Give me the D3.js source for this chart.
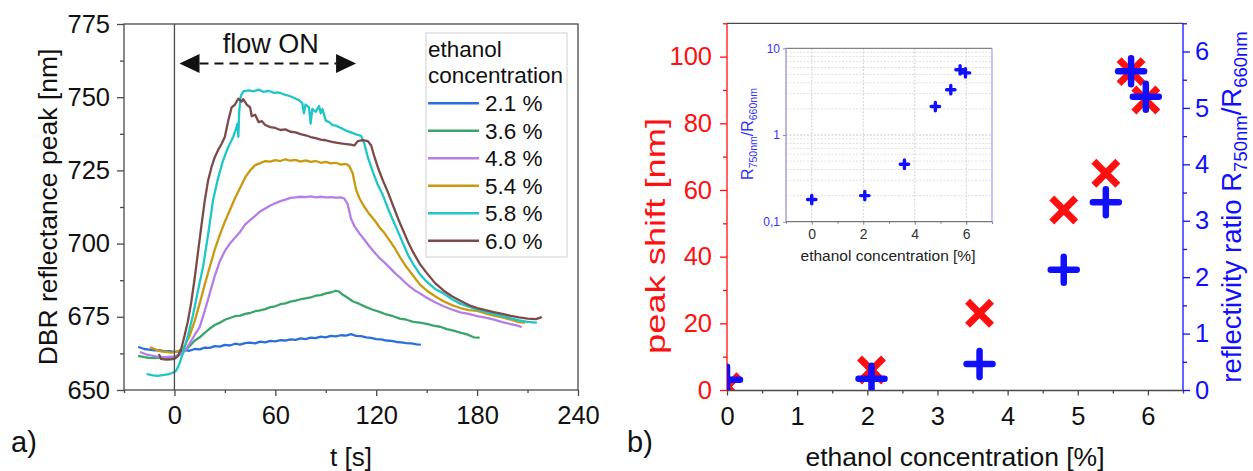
<!DOCTYPE html>
<html><head><meta charset="utf-8">
<script src="https://cdn.jsdelivr.net/npm/d3@7"></script>
<style>
body{margin:0;background:#fff}
svg{display:block;font-family:"Liberation Sans",Arial,sans-serif}
</style></head>
<body><svg id="c" width="1253" height="471"></svg>
<script>
// ---------------- data: panel a ----------------
const seriesNames = ["2.1 %","3.6 %","4.8 %","5.4 %","5.8 %","6.0 %"];
const c21 = [[-21,664.6],[-18,664.0],[-15,663.8],[-12,663.5],[-9,663.6],[-6,663.2],[-3,663.3],[0,663.0],[3,663.2],[6,663.6],[9,663.4],[12,664.0],[15,663.9],[18,664.5],[21,664.4],[24,665.0],[27,664.8],[30,665.4],[33,665.2],[36,665.8],[39,665.5],[42,666.0],[45,666.2],[48,665.9],[51,666.5],[54,666.3],[57,666.8],[60,666.6],[63,667.0],[66,666.9],[69,667.3],[72,667.1],[75,667.6],[78,667.4],[81,667.9],[84,667.7],[87,668.2],[90,668.0],[93,668.5],[96,668.3],[99,668.7],[102,668.6],[105,669.1],[108,668.5],[111,668.4],[114,668.0],[117,667.8],[120,667.4],[123,667.3],[126,666.9],[129,666.8],[132,666.4],[135,666.3],[138,666.0],[141,665.9],[144,665.6],[146,665.5]];
const c36 = [[-21,661.6],[-18,661.2],[-15,661.0],[-12,660.9],[-9,661.1],[-6,660.8],[-3,661.0],[0,661.3],[3,662.0],[6,663.5],[9,665.0],[12,666.8],[15,668.0],[18,669.5],[21,671.0],[24,672.2],[27,673.0],[30,674.0],[33,674.6],[36,675.2],[39,675.4],[42,676.0],[45,676.3],[48,676.9],[51,677.2],[54,677.6],[57,678.3],[60,678.6],[63,679.3],[66,679.6],[69,680.2],[72,680.5],[75,681.0],[78,681.3],[81,681.6],[84,682.2],[87,682.4],[90,683.0],[93,683.3],[96,683.9],[98,683.6],[100,682.6],[103,681.5],[106,680.3],[110,679.4],[114,678.3],[118,677.4],[122,676.7],[126,675.8],[130,675.2],[134,674.4],[138,674.0],[142,673.3],[146,673.0],[150,672.6],[154,672.0],[158,671.6],[162,670.8],[166,670.3],[170,669.6],[174,669.0],[178,668.0],[181,667.9]];
const c48 = [[-20,662.9],[-17,662.2],[-14,661.8],[-11,661.5],[-8,661.3],[-5,661.2],[-2,661.4],[0,661.5],[3,662.0],[6,663.2],[9,665.8],[12,668.8],[15,671.5],[18,677.0],[21,683.0],[24,689.0],[27,694.0],[30,697.5],[33,700.0],[36,702.0],[39,704.0],[42,706.5],[45,708.0],[48,709.5],[51,711.0],[54,712.0],[57,713.0],[60,713.8],[63,714.5],[66,715.0],[69,715.6],[72,715.8],[75,716.0],[78,715.9],[81,716.1],[84,715.8],[87,716.0],[90,715.8],[93,715.9],[96,715.7],[99,715.8],[101,715.4],[103,713.5],[105,708.5],[107,706.0],[110,703.5],[113,701.3],[116,699.0],[119,697.0],[122,695.0],[125,693.5],[128,691.8],[131,690.0],[134,688.5],[137,686.8],[140,685.3],[143,684.0],[146,683.0],[150,681.5],[155,680.0],[160,678.6],[165,677.5],[170,676.5],[175,676.0],[180,675.2],[185,674.7],[190,674.0],[195,673.2],[200,672.5],[204,672.0],[206,671.6]];
const c54 = [[-14,664.5],[-11,663.8],[-8,663.2],[-5,663.0],[-2,662.8],[0,662.9],[3,663.5],[6,665.0],[9,668.5],[12,673.5],[15,679.5],[18,686.0],[21,692.0],[24,698.0],[27,703.0],[30,707.5],[33,711.5],[36,715.5],[39,719.0],[42,722.5],[45,725.0],[48,726.8],[51,727.5],[54,728.2],[57,728.0],[60,728.5],[63,728.2],[66,728.8],[69,728.3],[72,728.6],[75,728.0],[78,728.4],[81,727.9],[84,728.2],[87,727.6],[90,727.9],[93,727.4],[96,727.6],[99,727.0],[102,727.2],[104,726.5],[106,724.0],[108,718.5],[110,715.5],[113,712.5],[116,710.0],[119,708.0],[122,705.5],[125,703.5],[128,701.0],[131,698.5],[134,695.5],[138,692.0],[142,689.0],[146,686.0],[150,684.0],[155,682.0],[160,680.3],[165,679.0],[170,678.0],[175,677.3],[180,677.0],[185,676.2],[190,675.4],[195,674.8],[200,674.0],[205,673.2],[208,673.0]];
const c58 = [[-16,655.4],[-13,655.0],[-10,654.8],[-7,655.1],[-4,655.3],[-1,655.9],[1,656.6],[3,659.0],[5,662.5],[8,668.5],[11,675.5],[14,684.0],[17,692.0],[20,703.0],[23,715.0],[26,722.5],[29,728.5],[32,733.0],[35,736.5],[36.5,739.0],[37.5,741.0],[38,736.5],[38.5,745.0],[39.5,750.5],[41,752.0],[44,752.3],[47,752.0],[50,752.6],[53,751.8],[56,752.2],[59,751.5],[62,751.6],[65,751.0],[68,750.5],[71,749.8],[74,749.0],[76,748.0],[77,744.5],[78,747.5],[80,746.5],[81,741.0],[82,746.0],[84,745.0],[86,747.0],[87,744.5],[88,746.0],[90,742.0],[92,741.5],[94,740.5],[96,740.3],[99,739.5],[102,738.6],[105,738.0],[108,737.3],[111,736.8],[113,734.0],[115,729.5],[118,724.5],[121,720.0],[124,716.5],[127,712.0],[130,708.0],[133,704.0],[136,700.0],[139,696.0],[142,693.0],[146,689.5],[150,687.0],[155,684.5],[160,683.0],[165,681.0],[170,679.5],[175,678.5],[180,677.5],[185,676.8],[190,676.0],[195,675.2],[200,674.5],[205,673.8],[210,673.3],[215,673.0]];
const c60 = [[-9,662.0],[-8,660.6],[-5,660.4],[-2,660.5],[0,660.6],[2,661.5],[4,664.0],[6,668.5],[8,673.5],[10,680.0],[12,688.0],[14,697.0],[16,706.0],[18,714.5],[20,721.5],[22,726.0],[24,729.5],[26,732.0],[28,734.0],[30,736.5],[32,742.0],[34,746.5],[36,747.5],[38,749.5],[40,748.5],[41,749.3],[43,747.5],[45,746.5],[46,743.5],[48,744.0],[50,741.5],[52,741.8],[54,740.5],[57,739.8],[60,739.5],[63,738.8],[66,739.0],[69,738.2],[72,738.0],[75,737.4],[78,737.0],[81,736.4],[84,736.0],[87,735.5],[90,735.3],[93,734.8],[96,734.5],[99,734.2],[102,734.0],[105,733.8],[107,733.5],[109,735.0],[112,735.3],[115,735.0],[117,733.5],[119,729.5],[121,726.0],[124,721.5],[127,717.5],[130,713.0],[133,708.5],[136,704.5],[139,700.5],[142,697.0],[146,693.0],[150,690.0],[155,686.5],[160,684.0],[165,682.0],[170,680.5],[175,679.0],[180,678.0],[185,677.3],[190,676.6],[195,676.0],[200,675.3],[205,674.8],[210,674.4],[215,674.2],[218,674.8]];
const seriesA = [c21,c36,c48,c54,c58,c60];
const tMajor = [0,60,120,180,240];
const tMinor = [-30,30,90,150,210];
const yMajorA = [650,675,700,725,750,775];
const yMinorA = [662.5,687.5,712.5,737.5,762.5];
const flowOn = [3,108]; // t range of the "flow ON" arrow

// ---------------- data: panel b ----------------
const concentration = [0,2.06,3.6,4.8,5.4,5.76,5.97];
const peakShift = [1,6,23,54,65,95.5,87];
const reflRatio = [0.18,0.2,0.46,2.13,3.33,5.65,5.2];
const xMajorB = [0,1,2,3,4,5,6];
const xMinorB = [0.5,1.5,2.5,3.5,4.5,5.5,6.5];
const yMajorL = [0,20,40,60,80,100];
const yMinorL = [10,30,50,70,90,110];
const yMajorR = [0,1,2,3,4,5,6];
const yMinorR = [0.5,1.5,2.5,3.5,4.5,5.5,6.5];
const insetXTicks = [0,2,4,6];
const insetXMinor = [-1,1,3,5,7];
const insetYTicks = [0.1,1,10];
const insetYLabels = ["0,1","1","10"];

// ---------------- styles ----------------
const colors = ["#2a6fdb","#3aa56b","#b57ee6","#c99a0e","#1ec6c8","#7b4b4a"];
const axisGray = "#4a4a4a";
const FONT = '"Liberation Sans", Arial, sans-serif';

const svg = d3.select("#c");

// ================= PANEL A =================
const xA = d3.scaleLinear().domain([-30,240]).range([124,578]);
const yA = d3.scaleLinear().domain([650,775]).range([390,24]);

function styleAxis(g, size, color){
  g.attr("font-size", size).attr("font-family", FONT);
  g.select(".domain").remove();
  g.selectAll(".tick line").attr("stroke", color).attr("stroke-width",1.3);
  g.selectAll(".tick text").attr("fill", color === axisGray ? "#111" : color);
}

svg.append("g").attr("transform","translate(0,390)")
  .call(d3.axisBottom(xA).tickValues(tMajor).tickSize(6).tickPadding(10).tickFormat(d3.format("d")))
  .call(g=>styleAxis(g,25.5,axisGray));
svg.append("g").attr("transform","translate(0,390)")
  .call(d3.axisBottom(xA).tickValues(tMinor).tickSize(3).tickFormat(""))
  .call(g=>styleAxis(g,25,axisGray));
svg.append("g").attr("transform","translate(124,0)")
  .call(d3.axisLeft(yA).tickValues(yMajorA).tickSize(7).tickPadding(7).tickFormat(d3.format("d")))
  .call(g=>styleAxis(g,25.5,axisGray));
svg.append("g").attr("transform","translate(124,0)")
  .call(d3.axisLeft(yA).tickValues(yMinorA).tickSize(4).tickFormat(""))
  .call(g=>styleAxis(g,25,axisGray));

const lineA = d3.line().x(d=>xA(d[0])).y(d=>yA(d[1]));
svg.append("g").selectAll("path").data(seriesA).join("path")
  .attr("d", lineA).attr("fill","none")
  .attr("stroke",(d,i)=>colors[i]).attr("stroke-width",2.3)
  .attr("stroke-linejoin","round").attr("stroke-linecap","round");

// vertical line at t=0
svg.append("line").attr("x1",xA(0)).attr("x2",xA(0)).attr("y1",yA(775)).attr("y2",yA(650))
  .attr("stroke",axisGray).attr("stroke-width",1.3);

// frame
svg.append("rect").attr("x",xA(-30)).attr("y",yA(775))
  .attr("width",xA(240)-xA(-30)).attr("height",yA(650)-yA(775))
  .attr("fill","none").attr("stroke",axisGray).attr("stroke-width",1.3);

// flow ON annotation
const yArrow = yA(761.5);
svg.append("text").attr("x",(xA(flowOn[0])+xA(flowOn[1]))/2+3).attr("y",53)
  .attr("text-anchor","middle").attr("font-size",27).attr("fill","#111").text("flow ON");
const ah = 20, aw = 9.5;
svg.append("line").attr("x1",xA(flowOn[0])+ah).attr("x2",xA(flowOn[1])-ah)
  .attr("y1",yArrow).attr("y2",yArrow).attr("stroke","#111").attr("stroke-width",2)
  .attr("stroke-dasharray","9,6");
svg.append("path").attr("fill","#111")
  .attr("d",`M${xA(flowOn[0])},${yArrow}L${xA(flowOn[0])+ah},${yArrow-aw}L${xA(flowOn[0])+ah},${yArrow+aw}Z`);
svg.append("path").attr("fill","#111")
  .attr("d",`M${xA(flowOn[1])},${yArrow}L${xA(flowOn[1])-ah},${yArrow-aw}L${xA(flowOn[1])-ah},${yArrow+aw}Z`);

// legend
const lg = svg.append("g");
lg.append("rect").attr("x",426).attr("y",33).attr("width",141).attr("height",224)
  .attr("fill","#fff").attr("stroke","#cfcfcf").attr("stroke-width",1);
lg.append("text").attr("x",428).attr("y",56.5).attr("font-size",22.5).attr("fill","#111").text("ethanol");
lg.append("text").attr("x",428).attr("y",83).attr("font-size",22.5).attr("fill","#111").text("concentration");
seriesNames.forEach((n,i)=>{
  const y = 103.3 + i*27.5;
  lg.append("line").attr("x1",428).attr("x2",479).attr("y1",y).attr("y2",y)
    .attr("stroke",colors[i]).attr("stroke-width",2.6);
  lg.append("text").attr("x",485).attr("y",y+8).attr("font-size",22.5).attr("fill","#111").text(n);
});

// axis titles panel a
svg.append("text").attr("transform","translate(57,207) rotate(-90)")
  .attr("text-anchor","middle").attr("font-size",26.5).attr("fill","#111")
  .text("DBR reflectance peak [nm]");
svg.append("text").attr("x",351).attr("y",466).attr("text-anchor","middle")
  .attr("font-size",26).attr("fill","#111").text("t [s]");
svg.append("text").attr("x",11).attr("y",452).attr("font-size",29).attr("fill","#111").text("a)");

// ================= PANEL B =================
const xB = d3.scaleLinear().domain([0,6.5]).range([727,1183]);
const yL = d3.scaleLinear().domain([0,110]).range([390,23.3]);
const yR = d3.scaleLinear().domain([0,6.5]).range([390,23.3]);
const red = "#ff1010", blue = "#1010ff";

svg.append("g").attr("transform","translate(0,390.5)")
  .call(d3.axisBottom(xB).tickValues(xMajorB).tickSize(5).tickPadding(11).tickFormat(d3.format("d")))
  .call(g=>styleAxis(g,25.5,axisGray));
svg.append("g").attr("transform","translate(0,390.5)")
  .call(d3.axisBottom(xB).tickValues(xMinorB).tickSize(3).tickFormat(""))
  .call(g=>styleAxis(g,25,axisGray));
svg.append("line").attr("x1",xB(0)).attr("x2",xB(6.5)).attr("y1",390.5).attr("y2",390.5)
  .attr("stroke",axisGray).attr("stroke-width",1.3);
svg.append("line").attr("x1",xB(0)).attr("x2",xB(6.5)).attr("y1",yL(110)).attr("y2",yL(110))
  .attr("stroke",axisGray).attr("stroke-width",1.3);

svg.append("g").attr("transform",`translate(${xB(0)},0)`)
  .call(d3.axisLeft(yL).tickValues(yMajorL).tickSize(7).tickPadding(8).tickFormat(d3.format("d")))
  .call(g=>styleAxis(g,25.5,red));
svg.append("g").attr("transform",`translate(${xB(0)},0)`)
  .call(d3.axisLeft(yL).tickValues(yMinorL).tickSize(4).tickFormat(""))
  .call(g=>styleAxis(g,25,red));
svg.append("line").attr("x1",xB(0)).attr("x2",xB(0)).attr("y1",yL(0)).attr("y2",yL(110))
  .attr("stroke",red).attr("stroke-width",1.3);

svg.append("g").attr("transform",`translate(${xB(6.5)},0)`)
  .call(d3.axisRight(yR).tickValues(yMajorR).tickSize(7).tickPadding(5).tickFormat(d3.format("d")))
  .call(g=>styleAxis(g,25.5,blue));
svg.append("g").attr("transform",`translate(${xB(6.5)},0)`)
  .call(d3.axisRight(yR).tickValues(yMinorR).tickSize(4).tickFormat(""))
  .call(g=>styleAxis(g,25,blue));
svg.append("line").attr("x1",xB(6.5)).attr("x2",xB(6.5)).attr("y1",yR(0)).attr("y2",yR(6.5))
  .attr("stroke",blue).attr("stroke-width",1.3);

// clip
svg.append("clipPath").attr("id","clipB").append("rect")
  .attr("x",xB(0)).attr("y",yL(110)).attr("width",xB(6.5)-xB(0)).attr("height",yL(0)-yL(110));

// ---- inset ----
const xI = d3.scaleLinear().domain([-1,7]).range([786,992]);
const yI = d3.scaleLog().domain([0.1,10]).range([221.7,48.3]);
const ins = svg.append("g");
const minorLog = [];
[0.1,1].forEach(b=>{for(let k=2;k<=9;k++) minorLog.push(b*k);});
ins.append("g").selectAll("line").data(minorLog).join("line")
  .attr("x1",xI(-1)).attr("x2",xI(7)).attr("y1",d=>yI(d)).attr("y2",d=>yI(d))
  .attr("stroke","#d8d8d8").attr("stroke-width",0.8).attr("stroke-dasharray","2,1.5");
ins.append("g").selectAll("line").data([1]).join("line")
  .attr("x1",xI(-1)).attr("x2",xI(7)).attr("y1",d=>yI(d)).attr("y2",d=>yI(d))
  .attr("stroke","#c8c8c8").attr("stroke-width",1).attr("stroke-dasharray","2,1.5");
ins.append("g").selectAll("line").data(insetXTicks).join("line")
  .attr("x1",d=>xI(d)).attr("x2",d=>xI(d)).attr("y1",yI(0.1)).attr("y2",yI(10))
  .attr("stroke","#d0d0d0").attr("stroke-width",1).attr("stroke-dasharray","2,1.5");
ins.append("line").attr("x1",xI(-1)).attr("x2",xI(7)).attr("y1",yI(10)).attr("y2",yI(10)).attr("stroke","#666").attr("stroke-width",1);
ins.append("line").attr("x1",xI(7)).attr("x2",xI(7)).attr("y1",yI(10)).attr("y2",yI(0.1)).attr("stroke","#9a9aff").attr("stroke-width",1.2);
ins.append("line").attr("x1",xI(-1)).attr("x2",xI(-1)).attr("y1",yI(10)).attr("y2",yI(0.1)).attr("stroke","#8a8ac8").attr("stroke-width",1.2);
ins.append("line").attr("x1",xI(-1)).attr("x2",xI(7)).attr("y1",yI(0.1)).attr("y2",yI(0.1)).attr("stroke","#777").attr("stroke-width",1.2);
ins.append("g").attr("transform",`translate(0,${yI(0.1)})`)
  .call(d3.axisBottom(xI).tickValues(insetXTicks).tickSize(3).tickPadding(4).tickFormat(d3.format("d")))
  .call(g=>{g.attr("font-size",14).attr("font-family",FONT);g.select(".domain").remove();
    g.selectAll(".tick line").attr("stroke","#777");g.selectAll(".tick text").attr("fill","#333");});
ins.append("g").attr("transform",`translate(0,${yI(0.1)})`)
  .call(d3.axisBottom(xI).tickValues(insetXMinor).tickSize(2).tickFormat(""))
  .call(g=>{g.select(".domain").remove();g.selectAll(".tick line").attr("stroke","#777");});
ins.append("g").attr("transform",`translate(${xI(-1)},0)`)
  .call(d3.axisLeft(yI).tickValues(insetYTicks).tickSize(3).tickPadding(3).tickFormat((d,i)=>insetYLabels[i]))
  .call(g=>{g.attr("font-size",12).attr("font-family",FONT);g.select(".domain").remove();
    g.selectAll(".tick line").attr("stroke","#8a8ac8");g.selectAll(".tick text").attr("fill","#3333ff");});
ins.append("text").attr("x",(xI(-1)+xI(7))/2-1).attr("y",260.5).attr("text-anchor","middle")
  .attr("font-size",15.5).attr("fill","#222").text("ethanol concentration [%]");
const iyl = ins.append("text").attr("transform",`translate(753,134) rotate(-90)`)
  .attr("text-anchor","middle").attr("font-size",16).attr("fill","#3333ff");
iyl.append("tspan").text("R");
iyl.append("tspan").attr("font-size",10.5).attr("dy",4).text("750nm");
iyl.append("tspan").attr("dy",-4).text("/R");
iyl.append("tspan").attr("font-size",10.5).attr("dy",4).text("660nm");
const plusI = 4.2;
ins.append("g").selectAll("path").data(concentration.map((c,i)=>[c,reflRatio[i]])).join("path")
  .attr("transform",d=>`translate(${xI(d[0])},${yI(d[1])})`)
  .attr("d",`M${-plusI},0H${plusI}M0,${-plusI}V${plusI}`)
  .attr("stroke",blue).attr("stroke-width",3.4).attr("stroke-linecap","round").attr("fill","none");

// ---- main markers ----
const mk = svg.append("g").attr("clip-path","url(#clipB)");
const xa = 12;
mk.selectAll("path.x").data(concentration.map((c,i)=>[c,peakShift[i]])).join("path").attr("class","x")
  .attr("transform",d=>`translate(${xB(d[0])},${yL(d[1])})`)
  .attr("d",`M${-xa},${-xa}L${xa},${xa}M${-xa},${xa}L${xa},${-xa}`)
  .attr("stroke",red).attr("stroke-width",7).attr("fill","none");
const pa = 13;
mk.selectAll("path.p").data(concentration.map((c,i)=>[c,reflRatio[i]])).join("path").attr("class","p")
  .attr("transform",d=>`translate(${xB(d[0])},${yR(d[1])})`)
  .attr("d",`M${-pa},0H${pa}M0,${-pa}V${pa}`)
  .attr("stroke",blue).attr("stroke-width",6.5).attr("stroke-linecap","round").attr("fill","none");

// axis titles panel b
svg.append("text").attr("transform","translate(665,236) rotate(-90)")
  .attr("text-anchor","middle").attr("font-size",28).attr("fill",red)
  .attr("textLength",236).attr("lengthAdjust","spacingAndGlyphs")
  .text("peak shift [nm]");
const ryl = svg.append("text").attr("transform","translate(1241,207) rotate(-90)")
  .attr("text-anchor","middle").attr("font-size",27.5).attr("fill",blue);
ryl.append("tspan").text("reflectivity ratio R");
ryl.append("tspan").attr("font-size",18.5).attr("dy",6).text("750nm");
ryl.append("tspan").attr("dy",-6).text("/R");
ryl.append("tspan").attr("font-size",18.5).attr("dy",6).text("660nm");
svg.append("text").attr("x",(xB(0)+xB(6.5))/2).attr("y",466).attr("text-anchor","middle")
  .attr("font-size",26.5).attr("fill","#111").text("ethanol concentration [%]");
svg.append("text").attr("x",627).attr("y",452).attr("font-size",29).attr("fill","#111").text("b)");
</script></body></html>
